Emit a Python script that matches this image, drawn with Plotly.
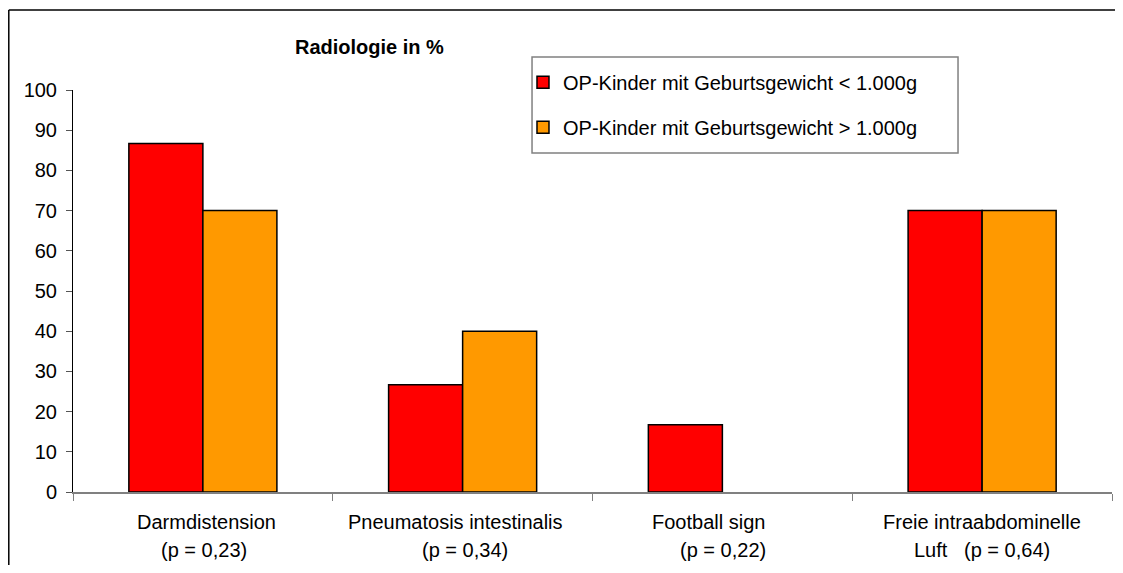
import plotly.graph_objects as go

# Chart data
categories = ["Darmdistension", "Pneumatosis intestinalis", "Football sign", "Freie intraabdominelle Luft"]
label_line1 = ["Darmdistension", "Pneumatosis intestinalis", "Football sign", "Freie intraabdominelle"]
label_line2 = ["(p = 0,23)", "(p = 0,34)", "(p = 0,22)", "Luft   (p = 0,64)"]
under_1000g = [86.7, 26.7, 16.7, 70.0]
over_1000g = [70.0, 40.0, 0.0, 70.0]
series_names = ["OP-Kinder mit Geburtsgewicht < 1.000g", "OP-Kinder mit Geburtsgewicht > 1.000g"]
y_ticks = list(range(0, 101, 10))

FONT = "Liberation Sans, Arial, sans-serif"
FS = 20

fig = go.Figure()

for name, vals, col, grp in [(series_names[0], under_1000g, "#FF0000", "a"),
                             (series_names[1], over_1000g, "#FF9900", "b")]:
    fig.add_trace(go.Bar(
        x=categories,
        y=vals,
        name=name,
        legendgroup=grp,
        marker=dict(color=col,
                    line=dict(color="black", width=[1.5 if v > 0 else 0 for v in vals])),
    ))

# page body has an 8px margin, so the figure is sized and placed to compensate
fig.update_layout(
    width=1107,
    height=557,
    margin=dict(l=65, r=3, t=82, b=73),
    paper_bgcolor="white",
    plot_bgcolor="white",
    barmode="group",
    bargap=0.43,
    bargroupgap=0,
    font=dict(family=FONT, size=FS, color="black"),
    showlegend=True,
    legend=dict(
        x=0.4331, y=1.0675, xanchor="left", yanchor="top",
        bgcolor="rgba(0,0,0,0)",
        borderwidth=0,
        traceorder="grouped",
        tracegroupgap=16,
        font=dict(family=FONT, size=FS, color="black"),
    ),
)

fig.update_xaxes(
    showline=True, linecolor="#808080", linewidth=1.5,
    ticks="outside", tickson="boundaries", ticklen=7, tickcolor="#808080",
    showticklabels=False, showgrid=False,
)
fig.update_yaxes(
    range=[0, 100], tickvals=y_ticks,
    showline=True, linecolor="black", linewidth=1,
    ticks="outside", ticklen=6, tickcolor="#555555",
    ticklabelstandoff=5,
    showgrid=False, zeroline=False,
    tickfont=dict(family=FONT, size=FS),
)

# category labels in two lines
shift1 = [4, -7, -14, 0]
shift2 = [1, 2, 1, 0]
for cat, t1, t2, s1, s2 in zip(categories, label_line1, label_line2, shift1, shift2):
    fig.add_annotation(x=cat, y=-0.0746, xref="x", yref="paper", text=t1, showarrow=False,
                       xshift=s1, yanchor="middle", font=dict(family=FONT, size=FS))
    fig.add_annotation(x=cat, y=-0.144, xref="x", yref="paper", text=t2, showarrow=False,
                       xshift=s2, yanchor="middle", font=dict(family=FONT, size=FS))

# title
fig.add_annotation(x=0.2849, y=1.107, xref="paper", yref="paper", text="<b>Radiologie in %</b>",
                   showarrow=False, xanchor="center", yanchor="middle",
                   font=dict(family=FONT, size=FS))

# legend frame
fig.add_shape(type="rect", xref="paper", yref="paper", x0=0.4418, x1=0.8518, y0=0.8433, y1=1.0821,
              line=dict(color="#808080", width=1.5), fillcolor="rgba(0,0,0,0)")

# outer chart frame (top and left edges visible)
fig.add_shape(type="line", xref="paper", yref="paper", x0=-0.0618, x1=-0.0618, y0=-0.25, y1=1.199,
              line=dict(color="black", width=1.5))
fig.add_shape(type="line", xref="paper", yref="paper", x0=-0.0618, x1=1.05, y0=1.199, y1=1.199,
              line=dict(color="black", width=1.5))

fig.write_html("out.html")
